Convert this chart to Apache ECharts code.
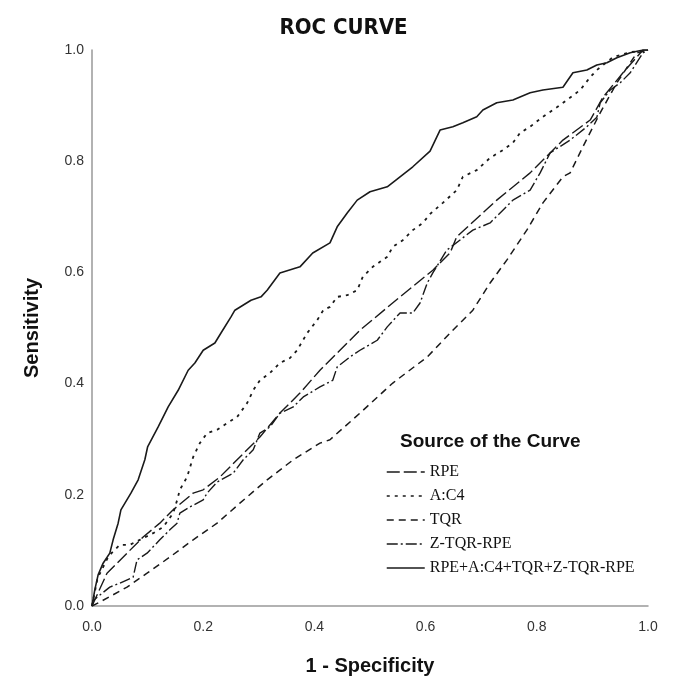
<!DOCTYPE html>
<html><head><meta charset="utf-8">
<script src="https://cdn.jsdelivr.net/npm/echarts@6/dist/echarts.min.js"></script>
<style>html,body{margin:0;padding:0;background:#fff}#c{width:687px;height:696px}</style>
</head><body><div id="c"></div>
<script>
var seriesNames = ['RPE', 'A:C4', 'TQR', 'Z-TQR-RPE', 'RPE+A:C4+TQR+Z-TQR-RPE'];
var xTicks = ['0.0','0.2','0.4','0.6','0.8','1.0'];

var rpeX = [0, 0.027, 0.063, 0.092, 0.122, 0.146, 0.182, 0.2, 0.23, 0.266, 0.302, 0.338, 0.374, 0.41, 0.446, 0.482, 0.554, 0.613, 0.644, 0.656, 0.728, 0.788, 0.847, 0.896, 0.919, 0.955, 0.991, 1];
var rpeY = [0, 0.059, 0.095, 0.124, 0.149, 0.173, 0.203, 0.209, 0.232, 0.268, 0.304, 0.347, 0.383, 0.424, 0.46, 0.496, 0.556, 0.604, 0.635, 0.664, 0.73, 0.779, 0.838, 0.874, 0.915, 0.959, 1.0, 1];

var ac4X = [0, 0.01, 0.03, 0.045, 0.05, 0.068, 0.086, 0.11, 0.128, 0.146, 0.153, 0.158, 0.171, 0.182, 0.194, 0.207, 0.225, 0.243, 0.261, 0.279, 0.29, 0.302, 0.32, 0.338, 0.356, 0.369, 0.387, 0.405, 0.416, 0.428, 0.441, 0.459, 0.477, 0.487, 0.505, 0.518, 0.531, 0.541, 0.559, 0.577, 0.595, 0.608, 0.631, 0.656, 0.667, 0.692, 0.716, 0.739, 0.757, 0.77, 0.788, 0.811, 0.836, 0.854, 0.878, 0.896, 0.908, 0.937, 0.968, 1];
var ac4Y = [0, 0.05, 0.09, 0.105, 0.11, 0.11, 0.119, 0.131, 0.142, 0.167, 0.19, 0.209, 0.232, 0.268, 0.293, 0.311, 0.317, 0.329, 0.34, 0.365, 0.388, 0.406, 0.419, 0.437, 0.446, 0.46, 0.491, 0.514, 0.532, 0.538, 0.556, 0.559, 0.568, 0.592, 0.61, 0.619, 0.628, 0.646, 0.658, 0.676, 0.689, 0.705, 0.725, 0.748, 0.772, 0.784, 0.806, 0.82, 0.833, 0.851, 0.862, 0.88, 0.897, 0.91, 0.928, 0.951, 0.964, 0.987, 0.996, 1];

var tqrX = [0, 0.014, 0.063, 0.099, 0.14, 0.182, 0.225, 0.266, 0.315, 0.362, 0.41, 0.428, 0.482, 0.541, 0.603, 0.649, 0.685, 0.716, 0.746, 0.782, 0.811, 0.847, 0.86, 0.883, 0.914, 0.944, 0.98, 1];
var tqrY = [0, 0.007, 0.034, 0.059, 0.088, 0.119, 0.149, 0.185, 0.227, 0.263, 0.293, 0.299, 0.347, 0.401, 0.448, 0.496, 0.532, 0.581, 0.622, 0.676, 0.725, 0.772, 0.779, 0.826, 0.887, 0.941, 0.995, 1];

var ztrX = [0, 0.002, 0.032, 0.05, 0.074, 0.081, 0.099, 0.122, 0.14, 0.153, 0.158, 0.176, 0.2, 0.207, 0.225, 0.254, 0.272, 0.29, 0.302, 0.32, 0.338, 0.362, 0.38, 0.41, 0.433, 0.441, 0.464, 0.482, 0.513, 0.531, 0.554, 0.577, 0.59, 0.603, 0.613, 0.638, 0.685, 0.716, 0.734, 0.757, 0.788, 0.806, 0.824, 0.86, 0.89, 0.908, 0.914, 0.932, 0.95, 0.968, 0.991, 1];
var ztrY = [0, 0.01, 0.034, 0.041, 0.052, 0.083, 0.095, 0.119, 0.137, 0.149, 0.167, 0.178, 0.191, 0.203, 0.223, 0.239, 0.263, 0.281, 0.311, 0.322, 0.347, 0.358, 0.376, 0.394, 0.406, 0.43, 0.448, 0.46, 0.478, 0.502, 0.527, 0.527, 0.545, 0.581, 0.599, 0.64, 0.676, 0.689, 0.707, 0.73, 0.748, 0.779, 0.815, 0.838, 0.862, 0.879, 0.905, 0.928, 0.941, 0.959, 0.995, 1];

var combX = [0, 0.005, 0.011, 0.02, 0.032, 0.038, 0.047, 0.052, 0.07, 0.083, 0.095, 0.1, 0.119, 0.137, 0.155, 0.173, 0.185, 0.2, 0.221, 0.232, 0.25, 0.257, 0.286, 0.304, 0.315, 0.338, 0.374, 0.397, 0.428, 0.441, 0.459, 0.477, 0.5, 0.531, 0.554, 0.577, 0.608, 0.626, 0.649, 0.667, 0.692, 0.703, 0.728, 0.757, 0.788, 0.811, 0.847, 0.865, 0.89, 0.908, 0.926, 0.944, 0.968, 0.991, 1];
var combY = [0, 0.029, 0.056, 0.077, 0.095, 0.119, 0.149, 0.173, 0.203, 0.227, 0.263, 0.286, 0.322, 0.358, 0.388, 0.424, 0.437, 0.46, 0.473, 0.491, 0.52, 0.532, 0.55, 0.556, 0.568, 0.599, 0.61, 0.635, 0.653, 0.682, 0.707, 0.73, 0.745, 0.754, 0.772, 0.79, 0.818, 0.856, 0.862, 0.869, 0.88, 0.892, 0.905, 0.91, 0.923, 0.928, 0.933, 0.959, 0.964, 0.973, 0.977, 0.986, 0.995, 1.0, 1];

function pairs(xs, ys){ return xs.map(function(x,i){ return [x, ys[i]]; }); }
var allX = [rpeX, ac4X, tqrX, ztrX, combX];
var allY = [rpeY, ac4Y, tqrY, ztrY, combY];
var dashes = [[13,4], [3,5], [7,5], [11,3,2,3], 'solid'];
var widths = [1.4, 1.8, 1.5, 1.4, 1.6];

var chart = echarts.init(document.getElementById('c'), null, {renderer:'canvas'});
var serif = "'Liberation Serif', 'DejaVu Serif', serif";
var sans = "'Liberation Sans', Arial, sans-serif";
chart.setOption({
  animation: false,
  backgroundColor: '#fff',
  title: [
    {text: 'ROC CURVE', left: 'center', top: 12, textStyle: {fontFamily: "'Liberation Sans Narrow','DejaVu Sans Condensed', sans-serif", fontSize: 22, fontWeight: 'bold', color: '#111'}},
    {text: 'Source of the Curve', left: 395, top: 427, textStyle: {fontFamily: sans, fontSize: 19, fontWeight: 'bold', color: '#111'}}
  ],
  grid: {left: 92, right: 39, top: 50, bottom: 90, containLabel: false},
  legend: {
    orient: 'vertical', left: 381, top: 459, itemGap: 8, itemWidth: 38, itemHeight: 16,
    data: seriesNames,
    itemStyle: {opacity: 0},
    lineStyle: {width: 1.5},
    textStyle: {fontFamily: serif, fontSize: 16, color: '#111'}
  },
  xAxis: {
    type: 'value', min: 0, max: 1, interval: 0.2,
    name: '1 - Specificity', nameLocation: 'middle', nameGap: 50,
    nameTextStyle: {fontFamily: sans, fontSize: 20, fontWeight: 'bold', color: '#111'},
    axisLine: {show: true, lineStyle: {color: '#999', width: 1.5}},
    axisTick: {show: false}, splitLine: {show: false},
    axisLabel: {fontFamily: sans, fontSize: 14, color: '#333', margin: 14, formatter: function(v){ return xTicks[Math.round(v*5)]; }}
  },
  yAxis: {
    type: 'value', min: 0, max: 1, interval: 0.2,
    name: 'Sensitivity', nameLocation: 'middle', nameGap: 50, nameRotate: 90,
    nameTextStyle: {fontFamily: sans, fontSize: 20, fontWeight: 'bold', color: '#111'},
    axisLine: {show: true, lineStyle: {color: '#999', width: 1.5}},
    axisTick: {show: false}, splitLine: {show: false},
    axisLabel: {fontFamily: sans, fontSize: 14, color: '#333', margin: 8, formatter: function(v){ return xTicks[Math.round(v*5)]; }}
  },
  series: seriesNames.map(function(n, i){
    return {
      name: n, type: 'line', symbol: 'none', data: pairs(allX[i], allY[i]),
      lineStyle: {color: '#1a1a1a', width: widths[i], type: dashes[i]},
      itemStyle: {color: '#1a1a1a'},
      z: 2 + i
    };
  })
});
</script></body></html>
